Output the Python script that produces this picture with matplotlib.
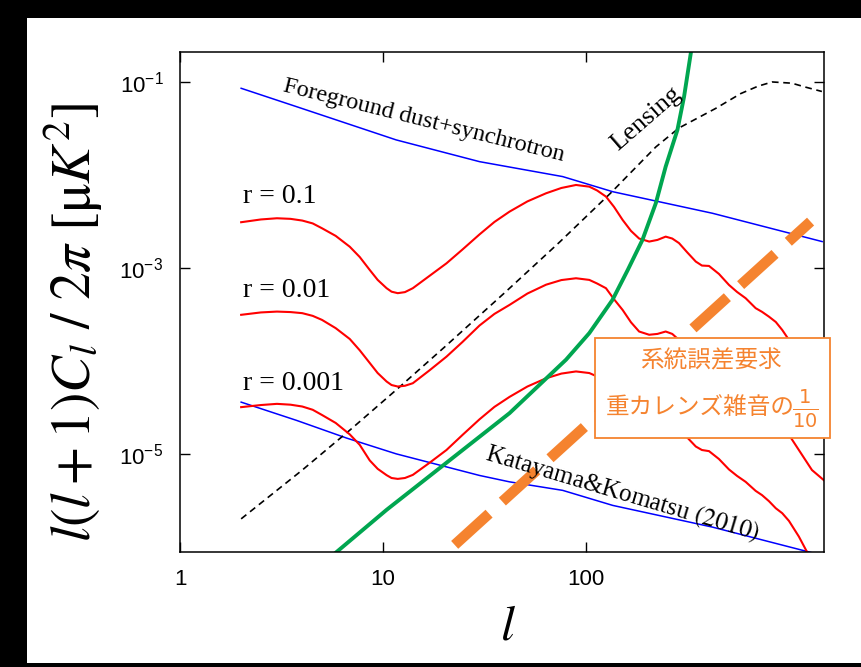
import matplotlib
matplotlib.use('Agg')
import matplotlib.pyplot as plt
from matplotlib.patches import Rectangle

plt.rcParams['font.family'] = ['Liberation Serif', 'DejaVu Serif']
plt.rcParams['mathtext.fontset'] = 'custom'
plt.rcParams['mathtext.rm'] = 'Liberation Sans'
plt.rcParams['mathtext.it'] = 'Liberation Sans:italic'

# ---- data ----
fg_l = [2, 3.75, 11.6, 29.8, 76.5, 135, 418, 1449]
fg_cl = [8.55e-2, 5.42e-2, 2.38e-2, 1.39e-2, 9.6e-3, 6.6e-3, 3.87e-3, 1.92e-3]

kk_l = [2, 3.75, 6.6, 11.6, 29.8, 41.9, 76.5, 135, 418, 1449]
kk_cl = [3.6e-5, 2.29e-5, 1.48e-5, 1.0e-5, 5.86e-6, 5.0e-6, 4.05e-6, 2.79e-6, 1.63e-6, 8.1e-7]

lens_l = [2, 4, 7, 12, 20, 40, 74, 132, 220, 286, 434, 576, 700, 823, 1028, 1200, 1445]
lens_cl = [2.0e-6, 6.7e-6, 1.87e-5, 5.2e-5, 1.4e-4, 5.5e-4, 1.9e-3, 6.4e-3, 2.0e-2,
           3.2e-2, 5.2e-2, 7.5e-2, 9.0e-2, 0.100, 0.097, 0.088, 0.079]

noise_l = [5.6, 10.4, 41.9, 79.5, 103.5, 134.6, 160, 189, 220, 246, 281, 303, 327, 335]
noise_cl = [8.0e-7, 2.5e-6, 2.74e-5, 1.03e-4, 1.99e-4, 4.53e-4, 9.5e-4, 2.0e-3, 4.97e-3,
            1.23e-2, 3.05e-2, 6.95e-2, 0.204, 0.3]

req_l = [22.5, 1271]
req_cl = [1.05e-6, 3.15e-3]

# tensor B-mode spectra, same multipoles for the three r values
r_l = [2, 2.5, 3, 3.5, 4, 4.5, 5, 5.84, 6.85, 7.67, 8.59, 9.4, 10.4, 11.0, 11.8, 12.8,
       14.0, 16.9, 20.5, 24.6, 29.8, 35.3, 41.9, 51.3, 63.4, 75.4, 89, 103.5, 113, 125,
       137, 151, 166, 182, 204, 224, 246, 265, 286, 314, 346, 371, 402, 450, 504, 552,
       609, 682, 733, 793, 857, 922, 995, 1113, 1291, 1479]
r1_cl = [3.10e-3, 3.32e-3, 3.42e-3, 3.37e-3, 3.23e-3, 3.01e-3, 2.67e-3, 2.21e-3, 1.69e-3,
         1.31e-3, 9.51e-4, 7.43e-4, 6.05e-4, 5.55e-4, 5.35e-4, 5.49e-4, 6.05e-4, 8.20e-4,
         1.12e-3, 1.58e-3, 2.29e-3, 3.12e-3, 4.03e-3, 5.19e-3, 6.35e-3, 7.24e-3, 7.80e-3,
         7.48e-3, 6.81e-3, 5.85e-3, 4.53e-3, 3.28e-3, 2.50e-3, 2.07e-3, 1.92e-3, 2.00e-3,
         2.17e-3, 2.07e-3, 1.85e-3, 1.47e-3, 1.17e-3, 1.06e-3, 1.05e-3, 8.61e-4, 6.56e-4,
         5.52e-4, 4.72e-4, 3.69e-4, 3.37e-4, 2.99e-4, 2.62e-4, 2.15e-4, 1.68e-4, 1.10e-4,
         6.73e-5, 5.25e-5]
r2_cl = [3.13e-4, 3.32e-4, 3.39e-4, 3.35e-4, 3.26e-4, 3.05e-4, 2.76e-4, 2.25e-4, 1.72e-4,
         1.30e-4, 9.5e-5, 7.4e-5, 6.0e-5, 5.5e-5, 5.3e-5, 5.4e-5, 5.75e-5, 7.9e-5,
         1.11e-4, 1.6e-4, 2.4e-4, 3.2e-4, 4.0e-4, 5.3e-4, 6.6e-4, 7.4e-4, 7.74e-4,
         7.43e-4, 6.8e-4, 6.05e-4, 4.6e-4, 3.53e-4, 2.6e-4, 2.07e-4, 1.91e-4, 1.95e-4,
         2.07e-4, 1.95e-4, 1.68e-4, 1.40e-4, 1.15e-4, 1.05e-4, 1.03e-4, 8.4e-5, 6.5e-5,
         5.5e-5, 4.7e-5, 3.7e-5, 3.35e-5, 2.95e-5, 2.55e-5, 2.1e-5, 1.6e-5, 1.1e-5,
         6.7e-6, 5.2e-6]
r3_cl = [3.18e-5, 3.35e-5, 3.45e-5, 3.38e-5, 3.23e-5, 2.98e-5, 2.62e-5, 2.15e-5, 1.62e-5,
         1.25e-5, 8.5e-6, 6.9e-6, 5.9e-6, 5.5e-6, 5.38e-6, 5.5e-6, 5.94e-6, 8.0e-6,
         1.10e-5, 1.6e-5, 2.35e-5, 3.2e-5, 4.1e-5, 5.3e-5, 6.5e-5, 7.3e-5, 7.7e-5,
         7.4e-5, 6.8e-5, 5.9e-5, 4.6e-5, 3.4e-5, 2.6e-5, 2.1e-5, 1.95e-5, 2.0e-5,
         2.15e-5, 2.05e-5, 1.85e-5, 1.5e-5, 1.2e-5, 1.1e-5, 1.07e-5, 8.8e-6, 6.8e-6,
         5.8e-6, 5.0e-6, 4.0e-6, 3.6e-6, 3.1e-6, 2.6e-6, 2.3e-6, 1.9e-6, 1.29e-6,
         7.0e-7, 5.0e-7]

r_labels = ['r = 0.1', 'r = 0.01', 'r = 0.001']
r_label_y = [5.0e-3, 4.9e-4, 4.9e-5]

ORANGE = '#f5832f'

fig = plt.figure(figsize=(8.61, 6.67), dpi=100, facecolor='black')
fig.add_artist(Rectangle((27 / 861, 4 / 667), 834 / 861, 645 / 667,
                         transform=fig.transFigure, facecolor='white',
                         edgecolor='none', zorder=-5))

ax = fig.add_axes([180 / 861, 1 - 552 / 667, 644 / 861, 500 / 667])
ax.set_xscale('log')
ax.set_yscale('log')
ax.set_xlim(1, 1480)
ax.set_ylim(8.8e-7, 0.21)

ax.plot(fg_l, fg_cl, color='#0000ff', lw=1.1)
ax.plot(kk_l, kk_cl, color='#0000ff', lw=1.1)
ax.plot(lens_l, lens_cl, color='black', lw=1.2, ls=(0, (4, 2.8)))
for cs in (r1_cl, r2_cl, r3_cl):
    ax.plot(r_l, cs, color='#ff0000', lw=1.5)
ax.plot(noise_l, noise_cl, color='#00a650', lw=2.8)
ax.plot(req_l, req_cl, color=ORANGE, lw=7.6, ls=(0, (4.4, 1.7)),
        dash_capstyle='butt')

ax.set_xticks([1, 10, 100])
ax.set_xticklabels(['1', '10', '100'])
ax.set_yticks([1e-5, 1e-3, 1e-1])
ax.set_yticklabels(['10$^{-5}$', '10$^{-3}$', '10$^{-1}$'])
ax.minorticks_off()
ax.tick_params(direction='in', length=7, width=1, top=True, right=True,
               labelsize=16, labelfontfamily='Liberation Sans')
ax.tick_params(axis='x', pad=12)
ax.tick_params(axis='y', pad=12)
for s in ax.spines.values():
    s.set_linewidth(1.1)

ax.set_xlabel('$l$', fontsize=36, math_fontfamily='stix')
ax.xaxis.set_label_coords(0.509, -0.105)
ax.set_ylabel(r'$l(l+\mathit{1})C_l\ /\ \mathit{2}\pi\ [\mathrm{\mu}K^2]$', fontsize=40,
              math_fontfamily='stix')
ax.yaxis.set_label_coords(-0.117, 0.46)

# annotations
ax.text(3.17, 0.080, 'Foreground dust+synchrotron', fontsize=17.5, rotation=-14,
        rotation_mode='anchor', ha='left', va='baseline')
ax.text(143, 0.0180, 'Lensing', fontsize=19, rotation=41,
        rotation_mode='anchor', ha='left', va='baseline')
ax.text(31.2, 8.8e-6, 'Katayama&Komatsu $\\mathit{(2010)}$', fontsize=18,
        rotation=-16.5, rotation_mode='anchor', ha='left', va='baseline',
        math_fontfamily='stix')
for lab, y in zip(r_labels, r_label_y):
    ax.text(2.04, y, lab, fontsize=20, ha='left', va='baseline')

# requirement box
fig.add_artist(Rectangle((595 / 861, 1 - 438 / 667), 235 / 861, 100 / 667,
                         transform=fig.transFigure, facecolor='white',
                         edgecolor=ORANGE, lw=1.3, zorder=5))
fig.text(711 / 861, 1 - 361 / 667, '系統誤差要求', color=ORANGE, fontsize=17,
         family=['Noto Sans CJK JP'], ha='center', va='center', zorder=6)
fig.text(606 / 861, 1 - 408 / 667, '重カレンズ雑音の', color=ORANGE, fontsize=17,
         family=['Noto Sans CJK JP'], ha='left', va='center', zorder=6)
fig.text(792 / 861, 1 - 409 / 667, '$\\frac{\\mathrm{1}}{\\mathrm{10}}$',
         color=ORANGE, fontsize=20, math_fontfamily='dejavusans',
         ha='left', va='center', zorder=6)

fig.savefig('out.png', dpi=100, facecolor='black')
